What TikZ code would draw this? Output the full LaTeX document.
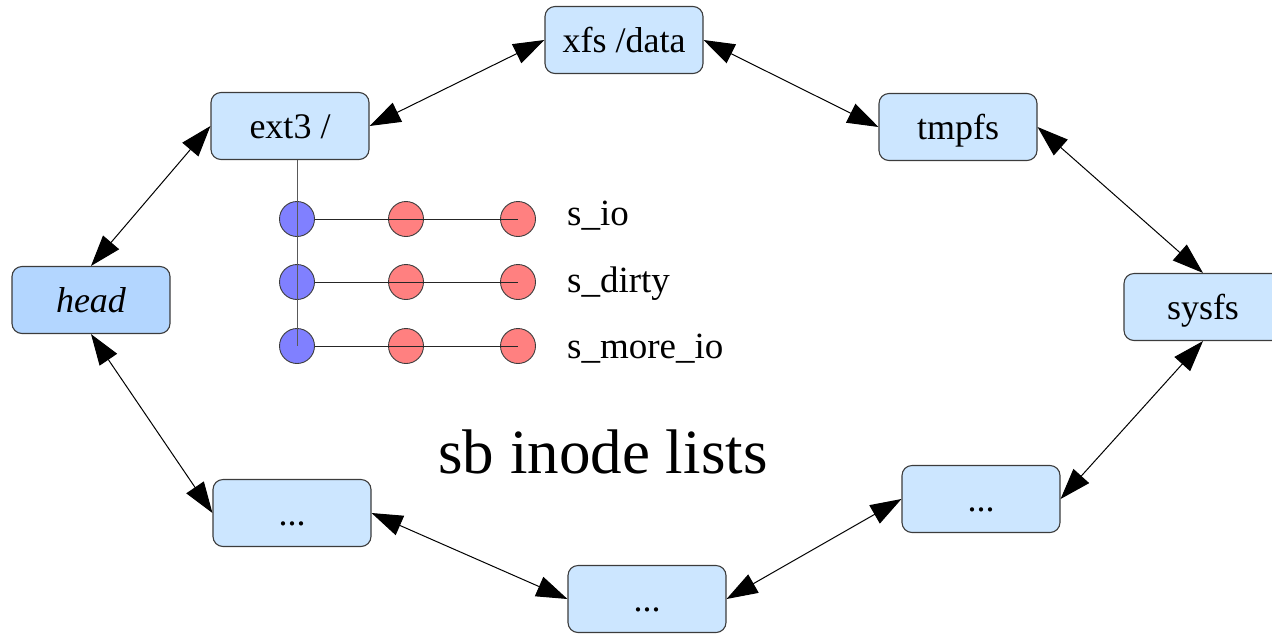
\documentclass[tikz,border=0pt]{standalone}
\usepackage{fontspec}
\setmainfont{Liberation Serif}
\usetikzlibrary{arrows.meta}
\definecolor{boxfill}{RGB}{204,230,255}
\definecolor{headfill}{RGB}{179,214,255}
\definecolor{boxline}{RGB}{60,60,60}
\definecolor{bluedot}{RGB}{128,128,255}
\definecolor{reddot}{RGB}{255,128,128}
\tikzset{
  fsbox/.style={draw=boxline, line width=1.1pt, fill=boxfill, rounded corners=10pt,
    minimum width=158pt, minimum height=67pt, inner sep=0pt,
    font=\fontsize{36}{40}\selectfont, text height=28pt, text depth=4pt},
  headbox/.style={fsbox, fill=headfill, font=\fontsize{36}{40}\selectfont\itshape},
  dot/.style={circle, draw=boxline, line width=0.9pt, minimum size=35pt, inner sep=0pt},
  bdot/.style={dot, fill=bluedot},
  rdot/.style={dot, fill=reddot},
  link/.style={line width=1pt, {Triangle[length=31pt,width=21pt]}-{Triangle[length=31pt,width=21pt]}},
  lbl/.style={anchor=base west, inner sep=0pt, font=\fontsize{37}{40}\selectfont},
  listline/.style={line width=1pt, black!85},
}
\begin{document}
\begin{tikzpicture}[x=1pt,y=-1pt]
\useasboundingbox (0,0) rectangle (1272,633);
\clip (0,0) rectangle (1272,633);
\node[fsbox] (xfs) at (624,40) {xfs /data};
\node[fsbox] (ext3) at (290,126) {ext3 /};
\node[fsbox] (tmpfs) at (958,127) {tmpfs};
\node[headbox] (head) at (91,300) {head};
\node[fsbox] (sysfs) at (1203,307) {sysfs};
\node[fsbox] (br) at (981,499) {...};
\node[fsbox] (bc) at (647,599) {...};
\node[fsbox] (bl) at (292,513) {...};

\node[bdot] (b1) at (297,219) {};
\node[bdot] (b2) at (297,282) {};
\node[bdot] (b3) at (297,346) {};
\node[rdot] (r11) at (406,219) {};
\node[rdot] (r12) at (518,219) {};
\node[rdot] (r21) at (406,282) {};
\node[rdot] (r22) at (518,282) {};
\node[rdot] (r31) at (406,346) {};
\node[rdot] (r32) at (518,346) {};

\draw[listline, black!65] (b1 |- ext3.south) -- (b3.center);
\draw[listline] (b1.east) -- (r12.center);
\draw[listline] (b2.east) -- (r22.center);
\draw[listline] (b3.east) -- (r32.center);

\node[lbl] (l1) at (567,225) {s\_io};
\node[lbl] (l2) at (567,292) {s\_dirty};
\node[lbl] (l3) at (567,358) {s\_more\_io};

\node[anchor=base, inner sep=0pt, font=\fontsize{63}{70}\selectfont] (title) at (603,473) {sb inode lists};

\draw[link] (head.north) -- (ext3.west);
\draw[link] (ext3.east) -- (xfs.west);
\draw[link] (xfs.east) -- (tmpfs.west);
\draw[link] (tmpfs.east) -- (sysfs.north);
\draw[link] (sysfs.south) -- (br.east);
\draw[link] (br.west) -- (bc.east);
\draw[link] (bc.west) -- (bl.east);
\draw[link] (bl.west) -- (head.south);
\end{tikzpicture}
\end{document}
